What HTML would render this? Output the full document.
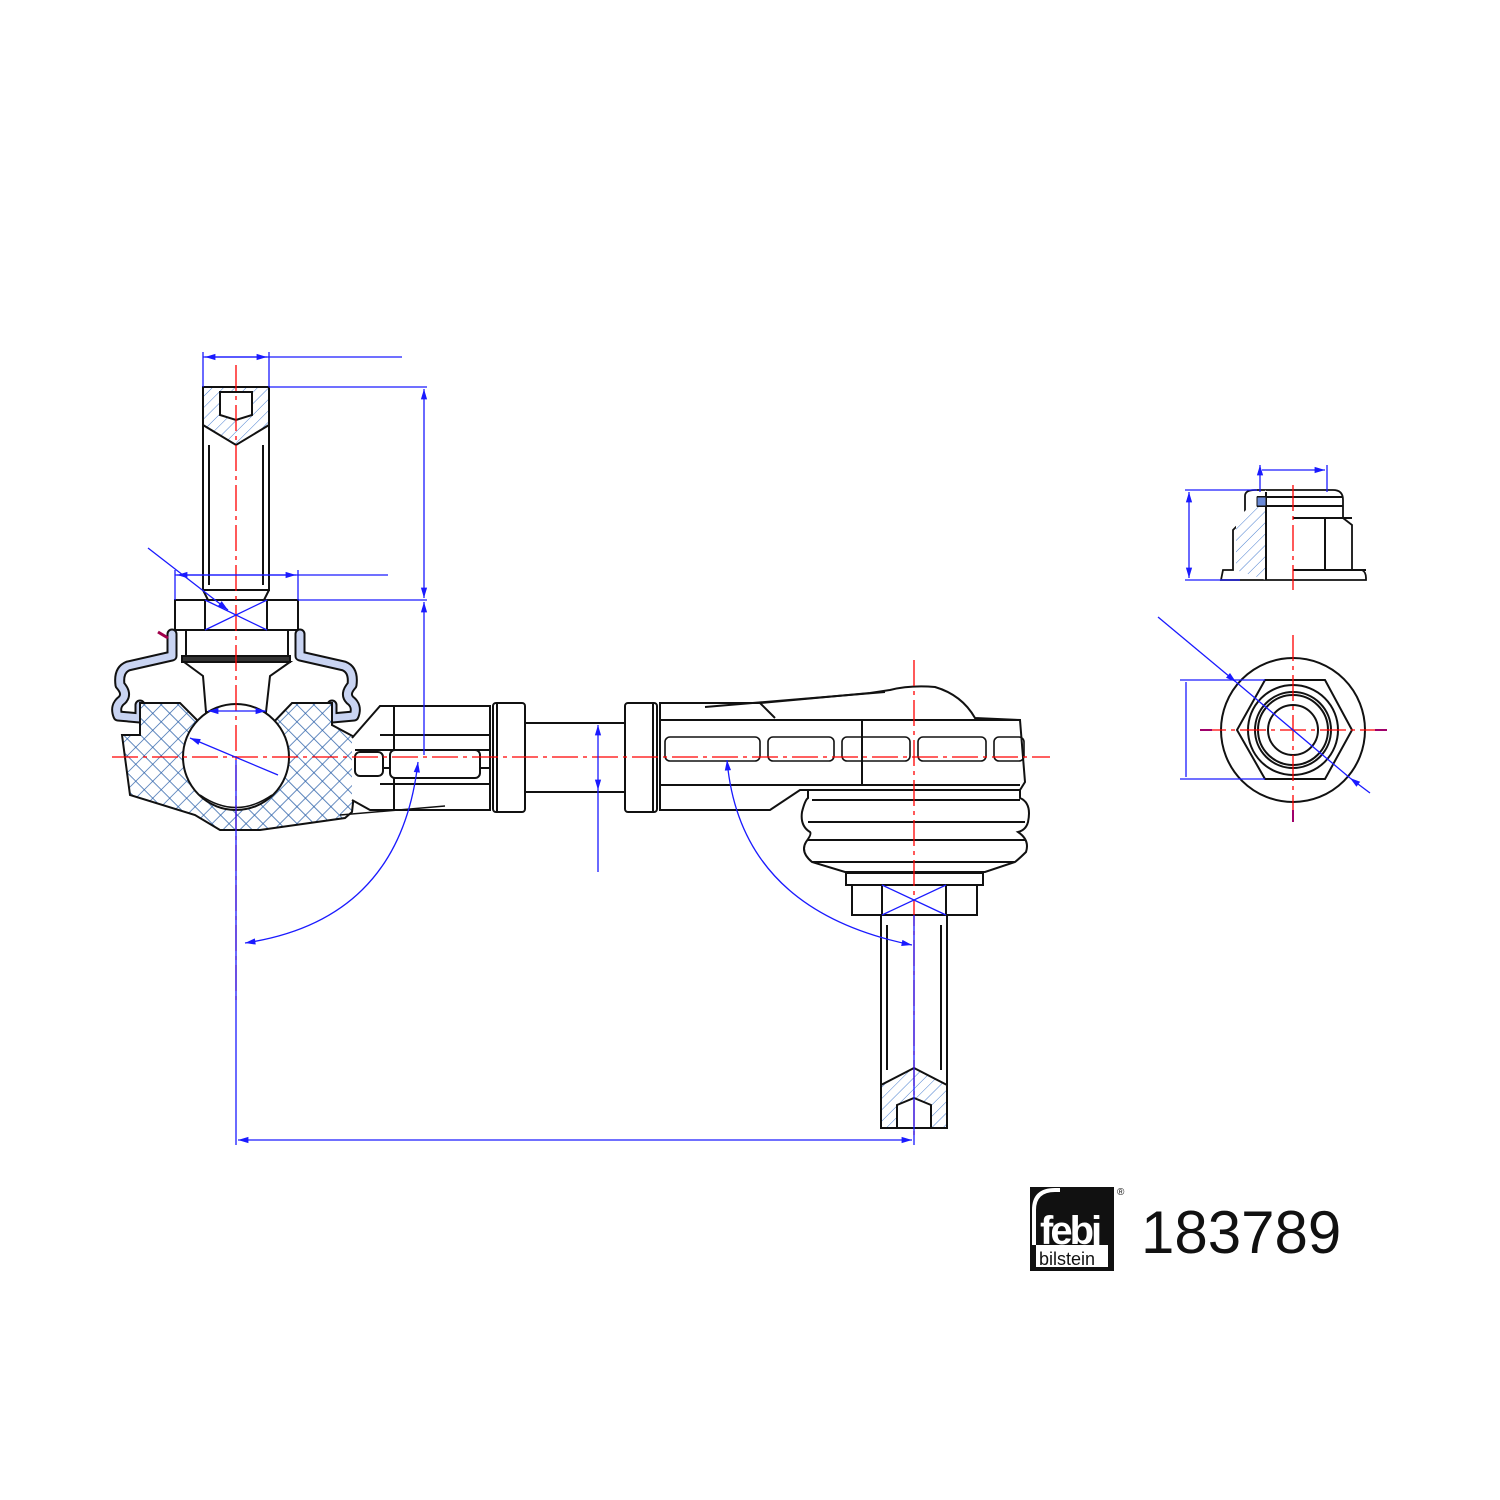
<!DOCTYPE html>
<html><head><meta charset="utf-8"><style>html,body{margin:0;padding:0;background:#fff}svg{display:block}</style></head>
<body>
<svg width="1500" height="1500" viewBox="0 0 1500 1500" xmlns="http://www.w3.org/2000/svg">
<defs>
<pattern id="xh" width="12" height="12" patternUnits="userSpaceOnUse" patternTransform="rotate(45)">
<rect width="12" height="12" fill="#fff"/>
<path d="M0 0H12M0 0V12" stroke="#2a5fa8" stroke-width="1.4"/>
</pattern>
<pattern id="sh" width="8" height="8" patternUnits="userSpaceOnUse" patternTransform="rotate(45)">
<rect width="8" height="8" fill="#fff"/>
<path d="M0 0V8" stroke="#4a7fd0" stroke-width="1"/>
</pattern>
<marker id="ar" viewBox="0 0 10 10" refX="10" refY="5" markerWidth="10" markerHeight="8" orient="auto-start-reverse"><path d="M0 2L10 5L0 8z" fill="#1a1aff"/></marker>
</defs>
<g fill="none" stroke="#111" stroke-width="2">
<!-- LEFT STUD -->
<rect x="203" y="387" width="66" height="203" fill="#fff"/>
<path d="M203 387H269V425L236 445L203 425Z" fill="url(#sh)"/>
<path d="M220 392H252V415L236 420L220 415Z" fill="#fff"/>
<path d="M209 445V585M263 445V585"/>
<path d="M203 590L208 600H264L269 590"/>
<rect x="175" y="600" width="123" height="30" fill="#fff"/>
<path d="M205 600V630M267 600V630"/>
<!-- boot (thick outline) -->
<g stroke-linejoin="round" stroke-linecap="round">
<path id="bl" d="M172 634V656L128 666Q118 670 120 685Q128 694 122 700Q114 706 118 716L140 718V705" stroke="#111" stroke-width="11"/>
<path d="M172 634V656L128 666Q118 670 120 685Q128 694 122 700Q114 706 118 716L140 718V705" stroke="#c9d4f2" stroke-width="7"/>
<path d="M300 634V656L344 666Q354 670 352 685Q344 694 350 700Q358 706 354 716L332 718V705" stroke="#111" stroke-width="11"/>
<path d="M300 634V656L344 666Q354 670 352 685Q344 694 350 700Q358 706 354 716L332 718V705" stroke="#c9d4f2" stroke-width="7"/>
</g>
<rect x="186" y="630" width="102" height="28" fill="#fff"/>
<rect x="182" y="656" width="108" height="6" fill="#333"/>
<path d="M184 662L203 676L206 712H266L270 676L290 662Z" fill="#fff"/>
<!-- housing hatch -->
<path d="M140 703H180L205 728Q185 760 200 790Q236 820 272 790Q288 760 268 728L292 703H332V725L360 740L352 812L345 818L260 830H220L195 815L130 795L122 735H140Z" fill="url(#xh)"/>
<circle cx="236" cy="757" r="53" fill="#fff"/>
<path d="M200 795Q236 820 272 795" stroke-width="1.5"/>
<!-- left rod end -->
<path d="M352 738L380 706H490V810H370L352 800" fill="#fff"/>
<path d="M355 750H490M355 768H490M380 735H490M380 784H490M394 706V810"/>
<rect x="390" y="750" width="90" height="28" rx="5" fill="#fff"/>
<rect x="355" y="752" width="28" height="24" rx="5" fill="#fff"/>
<path d="M340 815L445 806" stroke-width="1.5"/>
<rect x="493" y="703" width="32" height="109" rx="3" fill="#fff"/>
<path d="M497 703V812"/>
<path d="M525 723H625M525 792H625"/>
<rect x="625" y="703" width="32" height="109" rx="3" fill="#fff"/>
<path d="M653 703V812"/>
<!-- right body -->
<path d="M660 703H760L870 693L890 690Q910 685 935 687Q962 695 975 718L1020 720L1025 782L1020 790H800L770 810H660Z" fill="#fff"/>
<path d="M705 707L885 692M660 720H1020M660 785H1020M760 703L775 718"/>
<path d="M862 720V785"/>
<g stroke-width="1.6">
<rect x="665" y="737" width="95" height="24" rx="5"/>
<rect x="768" y="737" width="66" height="24" rx="5"/>
<rect x="842" y="737" width="68" height="24" rx="5"/>
<rect x="918" y="737" width="68" height="24" rx="5"/>
<rect x="994" y="737" width="30" height="24" rx="5"/>
</g>
<path d="M808 790H1020V798Q1032 803 1028 822Q1026 830 1018 832Q1030 840 1026 852Q1020 858 1015 862L985 872H845L812 862Q800 852 806 842Q812 834 810 832Q800 826 802 812Q805 800 808 798Z" fill="#fff"/>
<path d="M812 800H1020M808 822H1025M808 840H1025M812 862H1015"/>
<rect x="846" y="873" width="137" height="12" fill="#fff"/>
<rect x="852" y="885" width="125" height="30" fill="#fff"/>
<path d="M882 885V915M946 885V915"/>
<rect x="881" y="915" width="66" height="213" fill="#fff"/>
<path d="M887 925V1070M941 925V1070"/>
<path d="M881 1128V1085L914 1068L947 1085V1128Z" fill="url(#sh)"/>
<path d="M897 1128V1105L914 1098L931 1105V1128Z" fill="#fff"/>
<!-- NUT side -->
<path d="M1221 580L1223 570H1233V530L1245 518V496Q1245 490 1255 490H1333Q1343 490 1343 500V518L1352 525V570H1362Q1366 572 1366 578V580Z" fill="#fff" stroke-width="1.8"/>
<path d="M1236 520L1266 490V580L1236 570Z" fill="url(#sh)" stroke="none"/>
<path d="M1266 492V580M1257 497H1343M1257 506H1343M1293 518H1352M1293 570H1366M1325 518V570M1300 518H1352"/>
<rect x="1257" y="497" width="9" height="9" fill="#6a8ad8" stroke-width="1"/>
<!-- NUT top -->
<circle cx="1293" cy="730" r="72" fill="#fff"/>
<path d="M1265 680H1325L1352 730L1325 779H1265L1237 730Z" fill="#fff"/>
<circle cx="1293" cy="730" r="45"/>
<circle cx="1293" cy="730" r="38"/>
<circle cx="1293" cy="730" r="35"/>
<circle cx="1293" cy="730" r="25"/>
</g>
<g stroke="#f00" stroke-width="1.3" fill="none" stroke-dasharray="26 5 4 5">
<path d="M112 757H1050"/>
<path d="M236 365V1000"/>
<path d="M914 660V1140"/>
<path d="M1293 485V590"/>
<path d="M1293 635V822M1200 730H1387"/>
</g>
<path d="M1200 730H1212M1375 730H1387M1293 810V822" stroke="#a0006a" stroke-width="2"/>
<path d="M158 632L168 638" stroke="#a0004a" stroke-width="3"/>
<g stroke="#1a1aff" stroke-width="1.3" fill="none">
<path d="M203 352V387M269 352V387M203 357H402"/>
<path d="M205 357H267" marker-start="url(#ar)" marker-end="url(#ar)"/>
<path d="M269 387H427M298 600H427"/>
<path d="M424 389V598" marker-start="url(#ar)" marker-end="url(#ar)"/>
<path d="M424 602V755" marker-start="url(#ar)"/>
<path d="M175 570V600M298 570V600M175 575H388"/>
<path d="M177 575H296" marker-start="url(#ar)" marker-end="url(#ar)"/>
<path d="M148 548L228 610" marker-end="url(#ar)"/>
<path d="M205 600L267 630M205 630L267 600"/>
<path d="M278 775L190 738" marker-end="url(#ar)"/>
<path d="M208 711H266" marker-start="url(#ar)" marker-end="url(#ar)"/>
<path d="M245 943Q400 920 418 762" marker-start="url(#ar)" marker-end="url(#ar)"/>
<path d="M236 760V1145"/>
<path d="M914 915V1145"/>
<path d="M238 1140H912" marker-start="url(#ar)" marker-end="url(#ar)"/>
<path d="M598 725V790" marker-start="url(#ar)" marker-end="url(#ar)"/>
<path d="M598 790V872"/>
<path d="M727 760Q740 910 912 945" marker-start="url(#ar)" marker-end="url(#ar)"/>
<path d="M882 885L946 915M882 915L946 885"/>
<path d="M1260 465V492M1327 465V492M1262 470H1325" marker-start="url(#ar)" marker-end="url(#ar)"/>
<path d="M1185 490H1257M1185 580H1240"/>
<path d="M1189 492V578" marker-start="url(#ar)" marker-end="url(#ar)"/>
<path d="M1180 680H1265M1180 779H1265"/>
<path d="M1186 682V777"/>
<path d="M1158 617L1236 682" marker-end="url(#ar)"/>
<path d="M1236 682L1350 778"/>
<path d="M1370 793L1350 778" marker-end="url(#ar)"/>
</g>
<rect x="1030" y="1187" width="84" height="84" fill="#111"/>
<rect x="1036" y="1245" width="72" height="22" fill="#fff"/>
<path d="M1034 1245V1210Q1034 1190 1055 1190H1060" stroke="#fff" stroke-width="4" fill="none"/>
<text x="1040" y="1244" font-family="Liberation Sans, sans-serif" font-weight="bold" font-size="40" fill="#fff" letter-spacing="-3">febj</text>
<text x="1039" y="1265" font-family="Liberation Sans, sans-serif" font-size="18" fill="#111">bilstein</text>
<text x="1117" y="1195" font-family="Liberation Sans, sans-serif" font-size="10" fill="#111">®</text>
<text x="1141" y="1253" font-family="Liberation Sans, sans-serif" font-size="60" fill="#111">183789</text>
</svg>
</body></html>
